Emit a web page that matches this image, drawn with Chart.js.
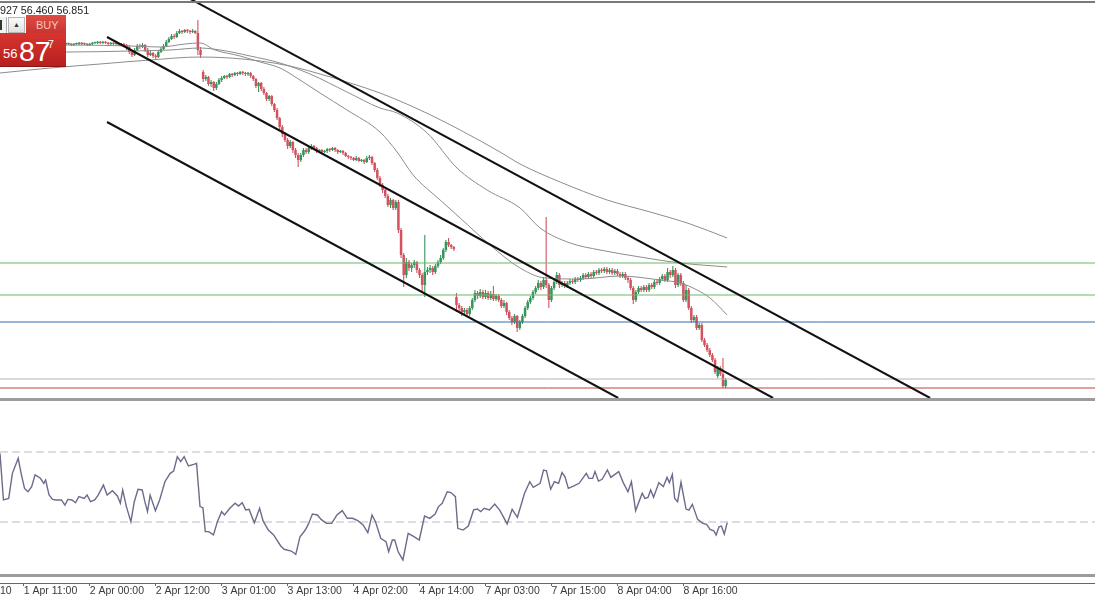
<!DOCTYPE html>
<html>
<head>
<meta charset="utf-8">
<script src="https://cdn.jsdelivr.net/npm/chart.js@4.4.1/dist/chart.umd.min.js"></script>
<style>
  html, body { margin: 0; padding: 0; background: #fff; }
  #wrap { position: relative; width: 1095px; height: 600px; overflow: hidden; background: #fff;
          font-family: 'Liberation Sans Narrow', 'Liberation Sans', Arial, sans-serif; }
  canvas { position: absolute; left: 0; }
  #mainChart { top: 0; }
  #rsiChart { top: 400px; }
  .rule { position: absolute; left: 0; width: 1095px; }
  #topRule { top: 1px; height: 2px; background: #7a7a7a; }
  #midRule { top: 398px; height: 3px; background: #9c9c9c; }
  #lowRule { top: 574px; height: 3px; background: #9c9c9c; }
  #quote { position: absolute; left: 0; top: 5px; font-size: 10.7px; line-height: 1; color: #222; white-space: nowrap; }
  .tb { position: absolute; box-sizing: border-box; }
  #tbLeft { left: 0; top: 17px; width: 7px; height: 16px; background: #f2f2f2; border-right: 1px solid #b0b0b0; }
  #tbLeft::before { content: ''; position: absolute; left: 0; top: 3px; width: 2px; height: 10px; background: #333; }
  #tbUp { left: 8px; top: 17px; width: 17px; height: 16px; background: linear-gradient(#fbfbfb, #e1e1e1);
          border: 1px solid #b5b5b5; font-size: 7px; line-height: 14px; text-align: center; color: #333; }
  #tbBuy { left: 26px; top: 15px; width: 40px; height: 18px; background: linear-gradient(#de4d45, #c9352e); }
  #tbBuy span { position: absolute; left: 10px; top: 5px; font-size: 11px; line-height: 1; color: #f6c3be; }
  #tbPrice { left: 0; top: 33px; width: 66px; height: 34px; background: linear-gradient(#d7352f, #b81f1f);
             border-bottom: 1px solid #8a1515; color: #fff; }
  #tbPrice span { position: absolute; line-height: 1; }
  #pSmall { left: 3px; top: 14px; font-size: 13px; }
  #pBig { left: 19px; top: 4px; font-size: 28.5px; }
  #pSup { left: 48px; top: 6px; font-size: 10.5px; }
</style>
</head>
<body>
<div id="wrap">
  <canvas id="mainChart" width="1095" height="398"></canvas>
  <canvas id="rsiChart" width="1095" height="200"></canvas>
  <div class="rule" id="topRule"></div>
  <div class="rule" id="midRule"></div>
  <div class="rule" id="lowRule"></div>
  <div id="quote">927 56.460 56.851</div>
  <div class="tb" id="tbLeft"></div>
  <div class="tb" id="tbUp">▲</div>
  <div class="tb" id="tbBuy"><span>BUY</span></div>
  <div class="tb" id="tbPrice"><span id="pSmall">56</span><span id="pBig">87</span><span id="pSup">7</span></div>
</div>
<script>
// WTI M30, 1-8 Apr: candles, three moving averages, channel lines, levels, RSI pane

// --- candles (one entry per bar, bar index = position in array) ---
const opens = [
  70.57,70.61,70.57,70.61,70.65,70.61,70.57,70.61,70.61,70.65,
  70.61,70.57,70.61,70.61,70.57,70.61,70.65,70.61,70.61,70.57,
  70.61,70.65,70.61,70.61,70.57,70.61,70.61,70.61,70.57,70.61,
  70.61,70.65,70.61,70.61,70.57,70.61,70.65,70.65,70.69,70.65,
  70.69,70.65,70.61,70.65,70.61,70.61,70.57,70.61,70.57,70.49,
  70.29,70.17,70.37,70.53,70.49,70.57,70.37,70.17,70.25,70.13,
  70.09,70.29,70.41,70.53,70.69,70.81,70.93,70.89,71.05,71.13,
  71.09,71.17,71.13,71.09,71.13,71.05,70.37,69.49,69.21,69.29,
  69.01,69.09,68.85,69.01,69.17,69.25,69.33,69.29,69.41,69.37,
  69.45,69.41,69.49,69.45,69.41,69.45,69.33,69.21,68.93,69.05,
  68.81,68.65,68.41,68.53,68.21,67.97,67.65,67.29,67.01,66.77,
  66.53,66.69,66.37,66.17,65.97,66.17,66.37,66.29,66.45,66.53,
  66.45,66.33,66.37,66.29,66.33,66.41,66.37,66.45,66.37,66.29,
  66.33,66.25,66.13,66.09,66.05,65.97,66.05,65.93,65.97,65.89,
  66.05,66.09,65.85,65.57,65.25,64.97,64.77,64.53,64.17,64.37,
  64.05,64.29,63.17,62.17,61.37,61.89,61.65,61.77,61.89,61.57,
  61.37,60.97,61.49,61.57,61.65,61.49,61.73,61.89,62.05,62.37,
  62.69,62.57,62.49,60.49,60.17,60.05,59.89,59.97,59.81,60.05,
  60.37,60.65,60.53,60.69,60.49,60.65,60.45,60.61,60.41,60.53,
  60.37,60.13,60.25,59.89,59.65,59.49,59.73,59.25,59.49,59.73,
  60.05,60.29,60.45,60.69,60.85,61.05,60.89,61.17,60.97,60.37,
  60.85,61.09,61.37,60.97,61.05,60.93,61.05,61.13,61.09,61.21,
  61.17,61.25,61.37,61.29,61.41,61.33,61.49,61.45,61.57,61.53,
  61.61,61.49,61.57,61.45,61.53,61.41,61.33,61.41,61.25,61.17,
  60.85,60.37,60.69,60.85,60.77,60.89,60.77,60.97,60.89,61.09,
  61.05,61.21,61.33,61.17,61.49,61.37,61.57,60.97,61.37,61.05,
  60.37,60.77,60.05,59.57,59.69,59.25,59.37,58.77,58.57,58.37,
  58.17,57.97,57.33,57.65,57.41,56.93
];
const highs = [
  70.65,70.65,70.65,70.69,70.69,70.65,70.65,70.65,70.69,70.69,
  70.65,70.65,70.65,70.65,70.65,70.69,70.69,70.65,70.65,70.65,
  70.69,70.69,70.65,70.65,70.65,70.65,70.65,70.65,70.65,70.65,
  70.69,70.69,70.65,70.65,70.65,70.69,70.69,70.73,70.73,70.73,
  70.73,70.69,70.69,70.69,70.65,70.65,70.65,70.65,70.61,70.57,
  70.37,70.45,70.61,70.61,70.65,70.61,70.45,70.33,70.29,70.21,
  70.37,70.49,70.61,70.77,70.89,71.01,71.01,71.13,71.21,71.17,
  71.21,71.21,71.17,71.21,71.17,71.57,70.49,69.57,69.37,69.33,
  69.17,69.13,69.09,69.25,69.33,69.37,69.37,69.45,69.45,69.49,
  69.49,69.53,69.53,69.49,69.49,69.49,69.37,69.25,69.09,69.09,
  68.89,68.69,68.57,68.57,68.25,68.05,67.69,67.37,67.09,66.85,
  66.77,66.73,66.45,66.25,66.25,66.45,66.45,66.53,66.61,66.57,
  66.49,66.41,66.41,66.37,66.45,66.45,66.49,66.49,66.41,66.37,
  66.37,66.29,66.17,66.13,66.09,66.13,66.09,66.01,66.01,66.13,
  66.17,66.13,65.89,65.65,65.33,65.05,64.81,64.61,64.45,64.41,
  64.37,64.37,63.25,62.25,62.05,61.97,61.85,61.97,61.93,61.65,
  61.45,62.97,61.69,61.77,61.73,61.81,61.97,62.17,62.45,62.77,
  62.85,62.61,62.53,60.65,60.25,60.13,60.05,60.05,60.13,60.45,
  60.77,60.73,60.81,60.77,60.77,60.73,60.73,60.93,60.61,60.61,
  60.45,60.37,60.29,59.97,59.73,59.81,59.77,59.57,59.81,60.13,
  60.37,60.53,60.77,60.93,61.17,61.13,61.29,63.69,61.05,60.93,
  61.17,61.49,61.45,61.13,61.13,61.13,61.21,61.21,61.29,61.29,
  61.33,61.45,61.45,61.49,61.49,61.57,61.57,61.65,61.65,61.69,
  61.69,61.65,61.65,61.61,61.61,61.49,61.49,61.49,61.33,61.25,
  60.93,60.77,60.93,60.93,60.97,60.97,61.05,61.05,61.17,61.17,
  61.29,61.41,61.41,61.65,61.57,61.73,61.65,61.45,61.45,61.13,
  60.97,60.85,60.13,59.77,59.77,59.45,59.45,58.85,58.65,58.45,
  58.25,58.05,57.73,57.73,58.05,57.25
];
const lows = [
  70.53,70.53,70.53,70.57,70.57,70.53,70.53,70.57,70.57,70.57,
  70.53,70.53,70.57,70.53,70.53,70.57,70.57,70.57,70.53,70.53,
  70.57,70.57,70.57,70.53,70.53,70.57,70.57,70.53,70.53,70.57,
  70.57,70.57,70.57,70.53,70.53,70.57,70.61,70.61,70.61,70.61,
  70.61,70.57,70.57,70.57,70.57,70.53,70.53,70.49,70.37,70.21,
  70.09,70.13,70.33,70.41,70.45,70.29,70.09,70.13,70.05,70.01,
  70.05,70.25,70.37,70.49,70.65,70.77,70.81,70.85,71.01,71.01,
  71.05,71.05,71.01,71.05,71.01,70.17,70.05,69.09,69.13,68.93,
  68.89,68.73,68.77,68.97,69.09,69.21,69.21,69.25,69.29,69.33,
  69.33,69.37,69.37,69.33,69.33,69.25,69.13,68.85,68.69,68.73,
  68.57,68.33,68.33,68.13,67.89,67.57,67.17,66.89,66.69,66.41,
  66.45,66.25,66.05,65.69,65.89,66.09,66.21,66.21,66.37,66.37,
  66.25,66.29,66.21,66.25,66.25,66.29,66.33,66.29,66.21,66.25,
  66.17,66.09,66.01,65.97,65.93,65.93,65.89,65.89,65.81,65.85,
  65.97,65.77,65.49,65.17,64.89,64.65,64.45,64.09,64.05,63.97,
  63.97,63.05,62.05,60.89,61.25,61.53,61.49,61.65,61.45,61.25,
  60.69,60.49,61.37,61.45,61.37,61.41,61.65,61.81,61.97,62.29,
  62.49,62.41,62.33,59.89,59.93,59.73,59.81,59.69,59.73,59.97,
  60.29,60.41,60.45,60.41,60.41,60.37,60.37,60.33,60.33,60.29,
  60.05,60.05,59.77,59.57,59.37,59.41,59.09,59.17,59.41,59.65,
  59.97,60.21,60.37,60.61,60.77,60.77,60.81,60.85,60.05,60.29,
  60.77,61.01,60.85,60.89,60.85,60.85,60.97,61.01,61.01,61.09,
  61.09,61.17,61.21,61.21,61.25,61.25,61.37,61.37,61.45,61.45,
  61.41,61.41,61.37,61.37,61.33,61.25,61.25,61.17,61.05,60.77,
  60.21,60.29,60.61,60.69,60.69,60.69,60.69,60.81,60.81,60.97,
  60.97,61.13,61.09,61.09,61.25,61.29,60.85,60.89,60.93,60.29,
  60.29,59.97,59.45,59.49,59.17,59.17,58.69,58.49,58.29,58.09,
  57.89,57.41,57.25,57.33,56.85,56.85
];
const closes = [
  70.61,70.57,70.61,70.65,70.61,70.57,70.61,70.61,70.65,70.61,
  70.57,70.61,70.61,70.57,70.61,70.65,70.61,70.61,70.57,70.61,
  70.65,70.61,70.61,70.57,70.61,70.61,70.61,70.57,70.61,70.61,
  70.65,70.61,70.61,70.57,70.61,70.65,70.65,70.69,70.65,70.69,
  70.65,70.61,70.65,70.61,70.61,70.57,70.61,70.57,70.49,70.29,
  70.17,70.37,70.53,70.49,70.57,70.37,70.17,70.25,70.13,70.09,
  70.29,70.41,70.53,70.69,70.81,70.93,70.89,71.05,71.13,71.09,
  71.17,71.13,71.09,71.13,71.05,70.37,70.17,69.21,69.29,69.01,
  69.09,68.85,69.01,69.17,69.25,69.33,69.29,69.41,69.37,69.45,
  69.41,69.49,69.45,69.41,69.45,69.33,69.21,68.93,69.05,68.81,
  68.65,68.41,68.53,68.21,67.97,67.65,67.29,67.01,66.77,66.53,
  66.69,66.37,66.17,65.97,66.17,66.37,66.29,66.45,66.53,66.45,
  66.33,66.37,66.29,66.33,66.41,66.37,66.45,66.37,66.29,66.33,
  66.25,66.13,66.09,66.05,65.97,66.05,65.93,65.97,65.89,66.05,
  66.09,65.85,65.57,65.25,64.97,64.77,64.53,64.17,64.37,64.05,
  64.29,63.17,62.17,61.37,61.89,61.65,61.77,61.89,61.57,61.37,
  60.97,61.49,61.57,61.65,61.49,61.73,61.89,62.05,62.37,62.69,
  62.57,62.49,62.41,60.17,60.05,59.89,59.97,59.81,60.05,60.37,
  60.65,60.53,60.69,60.49,60.65,60.45,60.61,60.41,60.53,60.37,
  60.13,60.25,59.89,59.65,59.49,59.73,59.25,59.49,59.73,60.05,
  60.29,60.45,60.69,60.85,61.05,60.89,61.17,60.97,60.37,60.85,
  61.09,61.37,60.97,61.05,60.93,61.05,61.13,61.09,61.21,61.17,
  61.25,61.37,61.29,61.41,61.33,61.49,61.45,61.57,61.53,61.61,
  61.49,61.57,61.45,61.53,61.41,61.33,61.41,61.25,61.17,60.85,
  60.37,60.69,60.85,60.77,60.89,60.77,60.97,60.89,61.09,61.05,
  61.21,61.33,61.17,61.49,61.37,61.57,60.97,61.37,61.05,60.37,
  60.77,60.05,59.57,59.69,59.25,59.37,58.77,58.57,58.37,58.17,
  57.97,57.49,57.65,57.41,56.93,57.17
];

// --- moving averages, read at sample bars ---
const maFastBars = [0, 25.8, 49.3, 60.7, 70.1, 75.8, 81.5, 91.0, 98.6, 106.1, 113.7, 121.3, 131.5, 144.0, 150.5, 156.6, 166.8, 174.4, 185.7, 197.1, 206.6, 219.9, 235.0, 250.2, 257.8, 264.2, 269.1, 275.6];
const maFast = [70.57, 70.57, 70.53, 70.49, 70.61, 70.65, 70.37, 70.13, 69.89, 69.65, 69.17, 68.65, 67.97, 67.09, 66.29, 65.37, 64.37, 63.65, 62.57, 61.65, 61.25, 61.21, 61.33, 61.17, 61.05, 60.77, 60.45, 59.77];
const maMidBars = [0, 25.8, 49.3, 64.4, 75.8, 83.4, 94.8, 106.1, 117.5, 131.5, 144.0, 150.5, 161.9, 173.2, 184.6, 197.1, 204.7, 216.1, 227.4, 242.6, 257.8, 275.6];
const maMid = [70.29, 70.29, 70.33, 70.37, 70.45, 70.37, 70.13, 69.85, 69.41, 68.69, 68.05, 67.85, 67.05, 65.65, 64.77, 64.05, 63.25, 62.65, 62.37, 62.09, 61.85, 61.69];
const maSlowBars = [0, 19.0, 37.9, 56.9, 75.8, 87.2, 98.6, 109.9, 121.3, 132.7, 144.0, 159.2, 174.4, 189.5, 197.1, 212.3, 230.1, 246.4, 261.6, 275.6];
const maSlow = [69.45, 69.65, 69.81, 69.97, 70.09, 70.05, 69.93, 69.73, 69.41, 69.05, 68.65, 67.97, 67.17, 66.29, 65.81, 65.09, 64.37, 63.89, 63.41, 62.85];

// --- channel lines (start / end) ---
const upperLineBars = [72.0, 352.5];
const upperLinePrices = [72.42, 56.45];
const middleLineBars = [40.56, 293.0];
const middleLinePrices = [70.89, 56.45];
const lowerLineBars = [40.56, 234.3];
const lowerLinePrices = [67.49, 56.45];

// --- horizontal levels ---
const levelPrices = [61.85, 60.57, 59.49, 57.21, 56.85];
const levelColors = ['#66b966', '#66b966', '#2f6ea8', '#b4b4b4', '#c0453c'];

// --- RSI pane ---
const rsiBars = [
  0,1.3,3.3,4.7,6.9,8.0,9.3,10.6,12.0,13.3,
  15.3,16.6,17.3,18.6,19.9,21.3,23.3,24.6,25.7,27.3,
  28.6,29.9,31.9,33.0,34.3,35.9,37.2,39.2,40.6,42.6,
  44.5,45.6,46.5,47.9,49.6,50.9,52.3,53.9,54.9,55.9,
  56.9,58.9,60.5,62.5,64.5,65.8,67.2,68.5,69.8,71.4,
  73.4,74.5,75.8,76.9,77.8,79.1,80.9,82.4,84.0,85.1,
  87.1,89.1,90.4,91.8,93.1,94.4,96.4,98.4,99.7,101.7,
  103.7,106.4,107.7,110.4,112.1,113.7,115.7,117.0,118.4,120.3,
  121.7,123.7,125.7,127.7,129.7,131.6,133.6,135.6,137.6,139.4,
  141.0,142.3,144.3,146.3,147.3,148.7,149.6,150.9,152.7,154.7,
  156.9,158.9,160.9,162.9,164.9,166.2,167.6,169.5,170.9,172.6,
  173.5,175.5,177.5,179.5,180.9,182.2,183.5,185.5,187.5,189.5,
  192.2,194.1,196.1,198.8,200.8,202.1,
  204.7,206.0,207.1,208.7,210.1,211.7,213.0,214.1,215.4,217.5,
  219.5,222.2,223.2,224.6,225.5,226.8,228.2,230.2,231.5,234.5,
  236.2,238.0,239.3,240.9,243.4,244.4,245.6,246.6,247.7,249.7,
  251.4,252.8,253.7,254.8,255.7,256.8,258.1,260.0,261.1,262.4,
  264.4,266.4,267.8,269.1,270.5,271.4,272.5,273.4,274.5,275.6
];
const rsiValues = [
  69.2,42.6,43.5,57.8,66.4,57.8,49.2,47.3,50.2,56.9,
  55.0,52.1,54.0,45.4,42.9,42.6,42.6,39.7,42.9,42.6,
  41.0,44.5,43.5,45.4,41.6,42.6,45.4,51.1,45.4,47.9,
  44.9,40.7,48.3,38.8,30.2,41.6,48.7,48.3,41.6,35.9,
  45.4,36.5,42.6,53.0,57.8,59.1,67.3,64.5,67.3,62.0,
  62.9,63.5,38.8,38.2,24.5,24.5,22.6,30.2,35.9,34.0,
  37.8,40.7,39.1,41.0,36.9,37.2,29.6,37.8,30.6,25.4,
  22.6,16.3,14.4,13.4,11.5,21.6,25.4,29.2,34.6,34.0,
  31.5,29.2,29.2,34.0,36.5,32.1,32.1,30.8,28.3,23.9,
  34.0,30.2,20.7,18.8,13.0,19.7,19.7,13.0,8.3,23.5,
  21.6,19.7,33.4,32.1,34.6,38.8,40.7,47.3,46.8,44.5,
  26.4,25.4,27.7,36.9,37.4,35.9,37.8,36.9,40.3,36.5,
  28.9,37.2,32.7,46.4,53.0,49.8,
  52.1,59.7,59.3,48.7,53.0,52.1,58.2,55.9,49.2,50.6,
  52.1,57.8,54.9,54.9,58.8,53.4,54.4,59.7,55.5,58.8,
  52.5,47.3,53.0,36.5,46.4,43.5,44.1,48.3,44.1,52.5,
  50.2,55.5,52.5,57.2,43.5,41.6,52.7,37.4,36.8,40.1,
  31.5,29.2,28.7,25.8,25.0,22.6,27.3,27.7,23.1,29.6
];
const rsiLevels = [70, 30];

// --- time axis ---
const tickBars = [0, 9, 34, 59, 84, 109, 134, 159, 184, 209, 234, 259];
const tickLabels = ['10', '1 Apr 11:00', '2 Apr 00:00', '2 Apr 12:00', '3 Apr 01:00', '3 Apr 13:00',
                    '4 Apr 02:00', '4 Apr 14:00', '7 Apr 03:00', '7 Apr 15:00', '8 Apr 04:00', '8 Apr 16:00'];

const UP = '#35955a';
const DOWN = '#d2535f';
const FONT = "'Liberation Sans Narrow', 'Liberation Sans', Arial, sans-serif";
const X_MIN = 0, X_MAX = 415;

function lineSet(bars, values, color, width, extra) {
    return Object.assign({
        type: 'line',
        data: bars.map((b, i) => ({ x: b, y: values[i] })),
        borderColor: color,
        borderWidth: width,
        pointRadius: 0,
        fill: false,
    }, extra || {});
}

// --- main price pane ---

const candleColors = opens.map((o, i) => closes[i] >= o ? UP : DOWN);

const mainDatasets = [
    {
        type: 'bar',
        data: lows.map((l, i) => ({ x: i, y: [l, highs[i]] })),
        backgroundColor: candleColors,
        barThickness: 1.1,
        grouped: false,
        inflateAmount: 0,
        order: 6,
    },
    {
        type: 'bar',
        data: opens.map((o, i) => ({ x: i, y: [o, closes[i]] })),
        backgroundColor: candleColors,
        barThickness: 2.5,
        minBarLength: 1.2,
        grouped: false,
        inflateAmount: 0,
        order: 5,
    },
    lineSet(maFastBars, maFast, '#8c8c8c', 1, { cubicInterpolationMode: 'monotone', order: 4 }),
    lineSet(maMidBars, maMid, '#8c8c8c', 1, { cubicInterpolationMode: 'monotone', order: 4 }),
    lineSet(maSlowBars, maSlow, '#8c8c8c', 1, { cubicInterpolationMode: 'monotone', order: 4 }),
];
levelPrices.forEach((p, k) => {
    mainDatasets.push(lineSet([X_MIN, X_MAX], [p, p], levelColors[k], 1, { order: 3 }));
});
mainDatasets.push(lineSet(upperLineBars, upperLinePrices, '#111', 2, { order: 1 }));
mainDatasets.push(lineSet(middleLineBars, middleLinePrices, '#111', 2, { order: 1 }));
mainDatasets.push(lineSet(lowerLineBars, lowerLinePrices, '#111', 2, { order: 1 }));

new Chart(document.getElementById('mainChart'), {
    type: 'bar',
    data: { datasets: mainDatasets },
    options: {
        responsive: false,
        animation: false,
        events: [],
        layout: { padding: 0 },
        plugins: { legend: { display: false }, tooltip: { enabled: false } },
        scales: {
            x: { type: 'linear', min: X_MIN, max: X_MAX, offset: false, display: false },
            y: { type: 'linear', min: 56.45, max: 72.37, display: false },
        },
    },
});

// --- RSI pane with time axis ---

const rsiDatasets = [
    lineSet(rsiBars, rsiValues, '#6b6b8b', 1.4, { order: 1 }),
];
rsiLevels.forEach(v => {
    rsiDatasets.push(lineSet([X_MIN, X_MAX], [v, v], '#bcbcc4', 1, { borderDash: [8, 4], order: 2 }));
});

new Chart(document.getElementById('rsiChart'), {
    type: 'line',
    data: { datasets: rsiDatasets },
    options: {
        responsive: false,
        animation: false,
        events: [],
        layout: { padding: 0 },
        plugins: { legend: { display: false }, tooltip: { enabled: false } },
        scales: {
            x: {
                type: 'linear',
                min: X_MIN,
                max: X_MAX,
                offset: false,
                position: 'bottom',
                afterBuildTicks: axis => { axis.ticks = tickBars.map(v => ({ value: v })); },
                afterFit: axis => { axis.height = 17; },
                ticks: {
                    autoSkip: false,
                    maxRotation: 0,
                    align: 'start',
                    padding: 0,
                    color: '#3a3a3a',
                    font: { family: FONT, size: 10.5, lineHeight: 1 },
                    callback: v => tickLabels[tickBars.indexOf(v)],
                },
                grid: {
                    drawOnChartArea: false,
                    drawTicks: true,
                    tickLength: 3,
                    color: ctx => ctx.index === 0 ? 'rgba(0,0,0,0)' : '#666',
                },
                border: { display: true, color: '#666', width: 1 },
            },
            y: { type: 'linear', min: -4.86, max: 99.71, display: false },
        },
    },
});
</script>
</body>
</html>
